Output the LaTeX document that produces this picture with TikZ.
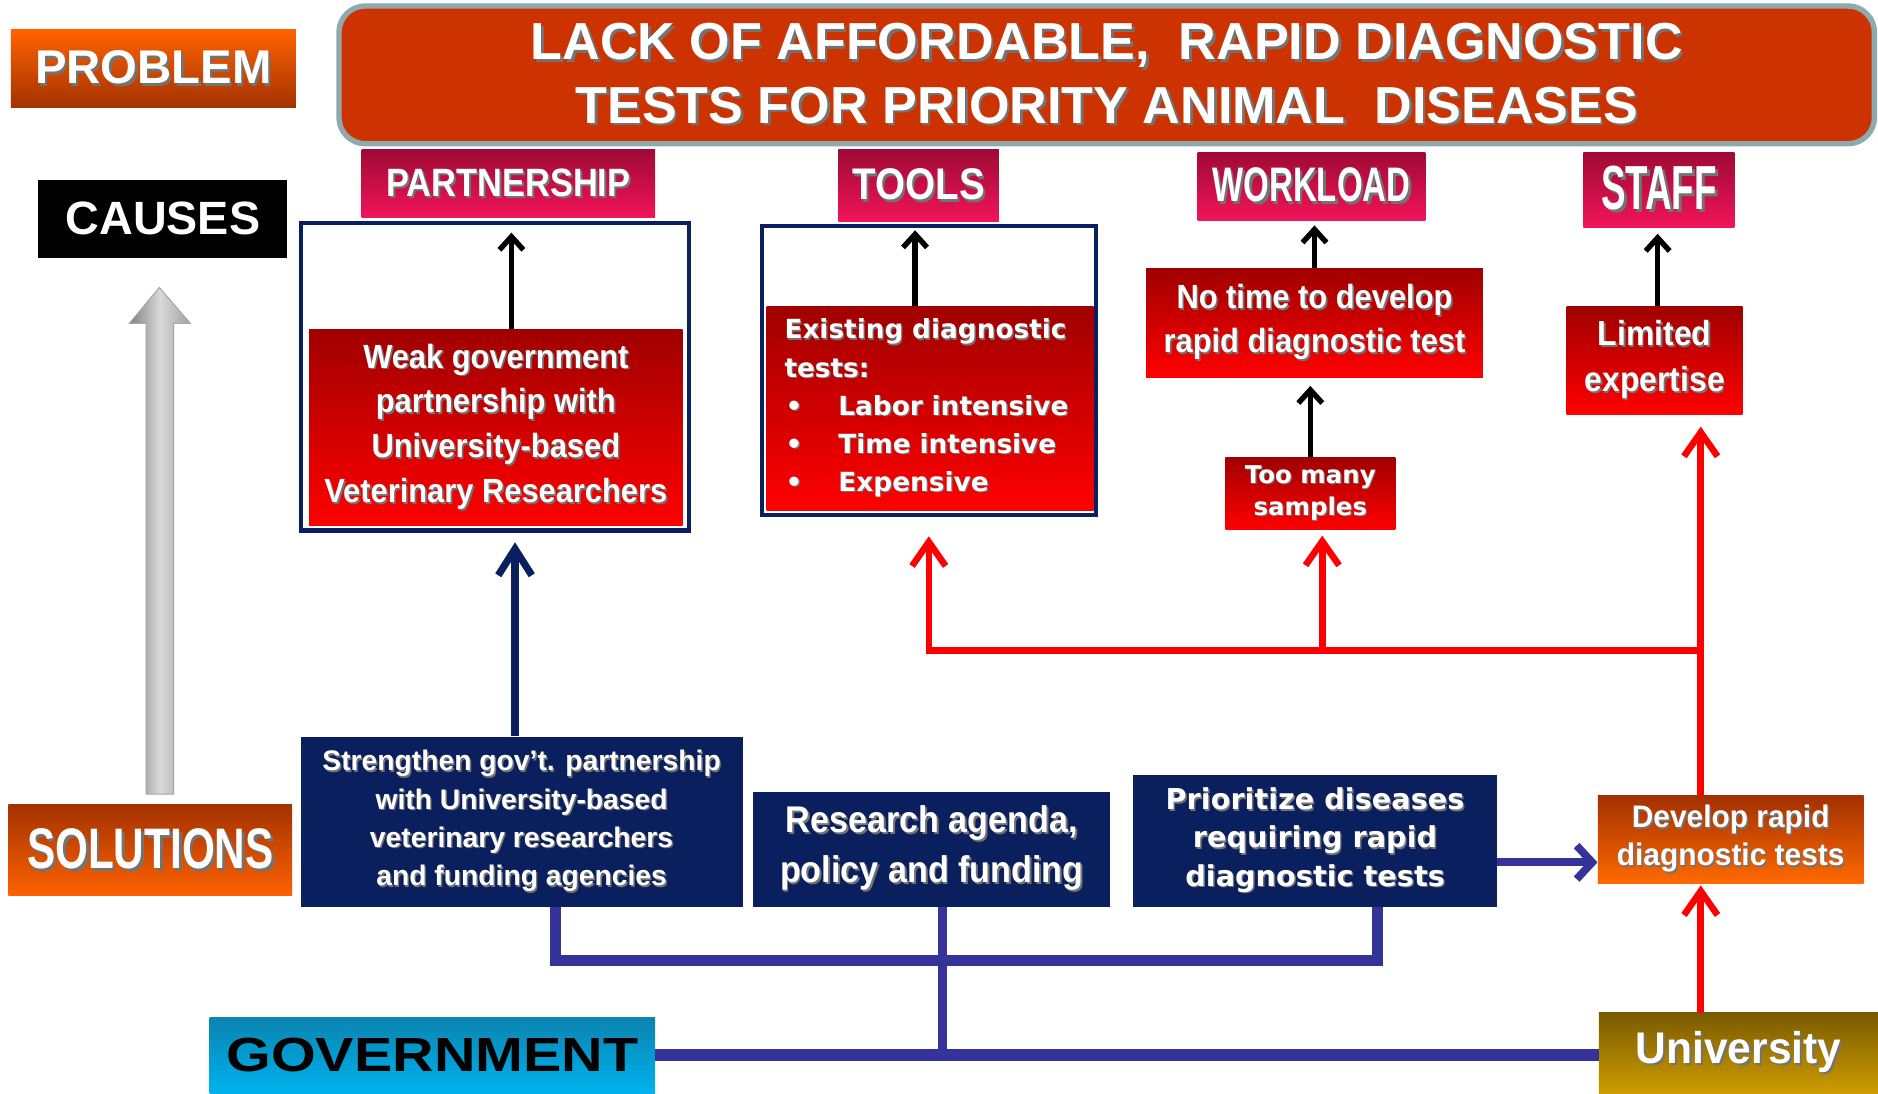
\documentclass[tikz,border=0pt]{standalone}
\usepackage{fontspec}
\setmainfont{Liberation Sans}
\newfontfamily\stA[FakeStretch=0.59]{Liberation Sans}
\newfontfamily\stB[FakeStretch=0.68]{Liberation Sans}
\newfontfamily\stC[FakeStretch=0.74]{Liberation Sans}
\newfontfamily\stD[FakeStretch=0.87]{Liberation Sans}
\newfontfamily\stE[FakeStretch=0.92]{Liberation Sans}
\newfontfamily\stF[FakeStretch=0.96]{Liberation Sans}
\newfontfamily\stG[FakeStretch=1.2]{Liberation Sans}
\newfontfamily\dvs{DejaVu Sans}
\usetikzlibrary{arrows.meta}
\definecolor{crimTop}{HTML}{9E0A35}
\definecolor{crimBot}{HTML}{F2145A}
\definecolor{redTop}{HTML}{A00000}
\definecolor{redBot}{HTML}{FF0000}
\definecolor{navy}{HTML}{0A1F5E}
\definecolor{blueLn}{HTML}{33339A}
\definecolor{orTop}{HTML}{FF6200}
\definecolor{orBot}{HTML}{A33200}
\definecolor{devTop}{HTML}{A33000}
\definecolor{devBot}{HTML}{FF6A00}
\definecolor{titleF}{HTML}{CC3300}
\definecolor{titleB}{HTML}{8EAAAE}
\definecolor{uniTop}{HTML}{7A5A00}
\definecolor{uniBot}{HTML}{CC9C00}
\definecolor{govTop}{HTML}{0A84B0}
\definecolor{govBot}{HTML}{00B2EE}
\newcommand\shtxt[1]{\leavevmode\rlap{\kern0.05em\raisebox{-0.05em}{\textcolor{black!55}{#1}}}#1}
\begin{document}
\begin{tikzpicture}[x=1pt,y=-1pt,
  box/.style={inner sep=0pt, align=center, text=white},
  crim/.style={box, top color=crimTop, bottom color=crimBot},
  redbx/.style={box, top color=redTop, bottom color=redBot},
  navybx/.style={box, fill=navy},
  outerbx/.style={draw=navy, line width=3.5pt, fill=white, inner sep=0pt},
  blk/.style={draw=black, line width=4.5pt, -{Straight Barb[length=11pt,width=20pt]}},
  redarr/.style={draw=red, line width=5.5pt, -{Straight Barb[length=20pt,width=28pt]}},
  navyarr/.style={draw=navy, line width=6pt, -{Straight Barb[length=22pt,width=28pt]}},
  bluearr/.style={draw=blueLn, line width=6.5pt, -{Straight Barb[length=13pt,width=28pt]}},
  blueln/.style={draw=blueLn, line width=8pt}
]
\useasboundingbox (0,0) rectangle (1568,912.6);
\fill[white] (0,0) rectangle (1568,912.6);

% left labels
\node[box, top color=orTop, bottom color=orBot, minimum width=238pt, minimum height=65pt,
  font=\bfseries\fontsize{39.5}{44}\selectfont] (problem) at (128,57.5) {\shtxt{PROBLEM}};
\node[box, fill=black, minimum width=208pt, minimum height=65pt,
  font=\bfseries\fontsize{39}{44}\selectfont] (causes) at (136,182.5) {CAUSES};
\node[box, top color=orBot, bottom color=orTop, minimum width=237pt, minimum height=76pt,
  font=\stC\bfseries\fontsize{47.7}{52}\selectfont] (solutions) at (125.5,710) {\shtxt{SOLUTIONS}};

% gray arrow
\shade[left color=gray!100, right color=gray!75, middle color=gray!30, draw=gray!70, line width=0.8pt]
  (122,663) -- (145,663) -- (145,270) -- (159,270) -- (133,240) -- (108,270) -- (122,270) -- cycle;

% title
\node[draw=titleB, line width=4.5pt, fill=titleF, rounded corners=22pt, minimum width=1282pt,
  minimum height=115pt, text=white, align=center, inner sep=0pt,
  font=\bfseries\fontsize{43.5}{53}\selectfont] (title) at (924,62.5)
  {\raisebox{-2pt}{\shtxt{LACK OF AFFORDABLE,\ \ RAPID DIAGNOSTIC}}\\\raisebox{-2pt}{\shtxt{TESTS FOR PRIORITY ANIMAL\ \ DISEASES}}};

% category labels
\node[crim, minimum width=245pt, minimum height=57pt, font=\stD\bfseries\fontsize{33}{38}\selectfont]
  (partner) at (424.5,153.5) {\shtxt{PARTNERSHIP}};
\node[crim, minimum width=134pt, minimum height=60pt, font=\stD\bfseries\fontsize{37}{40}\selectfont]
  (tools) at (767,155) {\shtxt{TOOLS}};
\node[crim, minimum width=190pt, minimum height=57pt, font=\stB\bfseries\fontsize{40.5}{44}\selectfont]
  (workload) at (1095,155.5) {\shtxt{WORKLOAD}};
\node[crim, minimum width=126pt, minimum height=63pt, font=\stA\bfseries\fontsize{52}{56}\selectfont]
  (staff) at (1385,158.5) {\shtxt{STAFF}};

% causes boxes
\node[outerbx, minimum width=324pt, minimum height=257pt] (pouter) at (413,314.5) {};
\node[redbx, minimum width=312pt, minimum height=164pt, font=\stE\bfseries\fontsize{28}{37.5}\selectfont]
  (weak) at (414,357) {\shtxt{Weak government}\\\shtxt{partnership with}\\\shtxt{University-based}\\\shtxt{Veterinary Researchers}};

\node[outerbx, minimum width=279pt, minimum height=241pt] (touter) at (775.5,309.5) {};
\node[redbx, align=left, inner xsep=15pt, text width=243pt, minimum height=170pt,
  font=\dvs\bfseries\fontsize{22}{31.75}\selectfont] (exist) at (776.5,341)
  {\shtxt{Existing diagnostic}\\\shtxt{tests:}\\
   \makebox[45pt][l]{\hspace{1pt}\shtxt{\textbullet}}\shtxt{Labor intensive}\\
   \makebox[45pt][l]{\hspace{1pt}\shtxt{\textbullet}}\shtxt{Time intensive}\\
   \makebox[45pt][l]{\hspace{1pt}\shtxt{\textbullet}}\shtxt{Expensive}};

\node[redbx, minimum width=281pt, minimum height=91pt, font=\stE\bfseries\fontsize{28}{37}\selectfont]
  (notime) at (1097.5,269.5) {\shtxt{No time to develop}\\\shtxt{rapid diagnostic test}};
\node[redbx, minimum width=142pt, minimum height=60pt, font=\dvs\bfseries\fontsize{20.4}{27}\selectfont]
  (too) at (1094,412) {\shtxt{Too many}\\\shtxt{samples}};
\node[redbx, minimum width=147pt, minimum height=90pt, font=\stE\bfseries\fontsize{29}{38}\selectfont]
  (limited) at (1381.5,301) {\shtxt{Limited}\\\shtxt{expertise}};

% solution boxes
\node[navybx, minimum width=369pt, minimum height=142pt, font=\bfseries\fontsize{23.6}{32}\selectfont]
  (strength) at (435.5,686) {\shtxt{Strengthen gov't. partnership}\\\shtxt{with University-based}\\\shtxt{veterinary researchers}\\\shtxt{and funding agencies}};
\node[navybx, minimum width=298pt, minimum height=96pt, font=\stE\bfseries\fontsize{31}{42}\selectfont]
  (research) at (778,709) {\shtxt{Research agenda,}\\\shtxt{policy and funding}};
\node[navybx, minimum width=304pt, minimum height=110pt, font=\dvs\bfseries\fontsize{24}{32}\selectfont]
  (prior) at (1098,702) {\shtxt{Prioritize diseases}\\\shtxt{requiring rapid}\\\shtxt{diagnostic tests}};
\node[box, top color=devTop, bottom color=devBot, minimum width=222pt, minimum height=74pt,
  font=\stF\bfseries\fontsize{26}{32}\selectfont] (develop) at (1445,701)
  {\shtxt{Develop rapid}\\\shtxt{diagnostic tests}};
\node[box, top color=uniTop, bottom color=uniBot, minimum width=233pt, minimum height=67pt,
  font=\stF\bfseries\fontsize{37}{40}\selectfont] (univ) at (1451.5,879.1) {\shtxt{University}};
\node[box, text=black, top color=govTop, bottom color=govBot, minimum width=372pt, minimum height=63pt,
  font=\stG\bfseries\fontsize{40}{44}\selectfont] (gov) at (361,881.1) {GOVERNMENT};

% black arrows
\draw[blk, shorten >=10pt] ([xshift=13pt]weak.north) -- ([xshift=13pt]weak.north |- pouter.north);
\draw[blk, shorten >=5pt] ([xshift=-12.5pt]exist.north) -- ([xshift=-12.5pt]exist.north |- touter.north);
\draw[blk, shorten >=4pt] (notime.north) -- (notime.north |- workload.south);
\draw[blk, shorten >=7pt] (too.north) -- (too.north |- notime.south);
\draw[blk, shorten >=5pt] ([xshift=2.5pt]limited.north) -- ([xshift=2.5pt]limited.north |- staff.south);

% red connectors
\coordinate (rj) at (1420,543);
\coordinate (rm) at (1104,543);
\draw[redarr, shorten >=10pt] (develop.north -| rj) -- (rj |- limited.south);
\draw[redarr, shorten >=16pt] (rj) -| (touter.south);
\draw[redarr, shorten >=5pt] (rm) -- (rm |- too.south);
\draw[redarr, shorten >=1pt] (univ.north -| rj) -- (develop.south -| rj);

% navy arrow
\draw[navyarr, shorten >=8pt] ([xshift=-5.5pt]strength.north) -- ([xshift=-5.5pt]strength.north |- pouter.south);

% blue connectors
\coordinate (bj) at (787,880);
\coordinate (bl) at (464,802);
\coordinate (br) at (1150,802);
\coordinate (ba) at (1250,720);
\draw[blueln, line width=10pt] (gov.east) -- (gov.east -| univ.west);
\draw[blueln] (research.south -| bj) -- (bj |- gov.east);
\draw[blueln, line width=9pt] (strength.south -| bl) -- (bl) -- (br) -- (br |- prior.south);
\draw[bluearr] (ba -| prior.east) -- (ba -| develop.west);
\end{tikzpicture}
\end{document}
